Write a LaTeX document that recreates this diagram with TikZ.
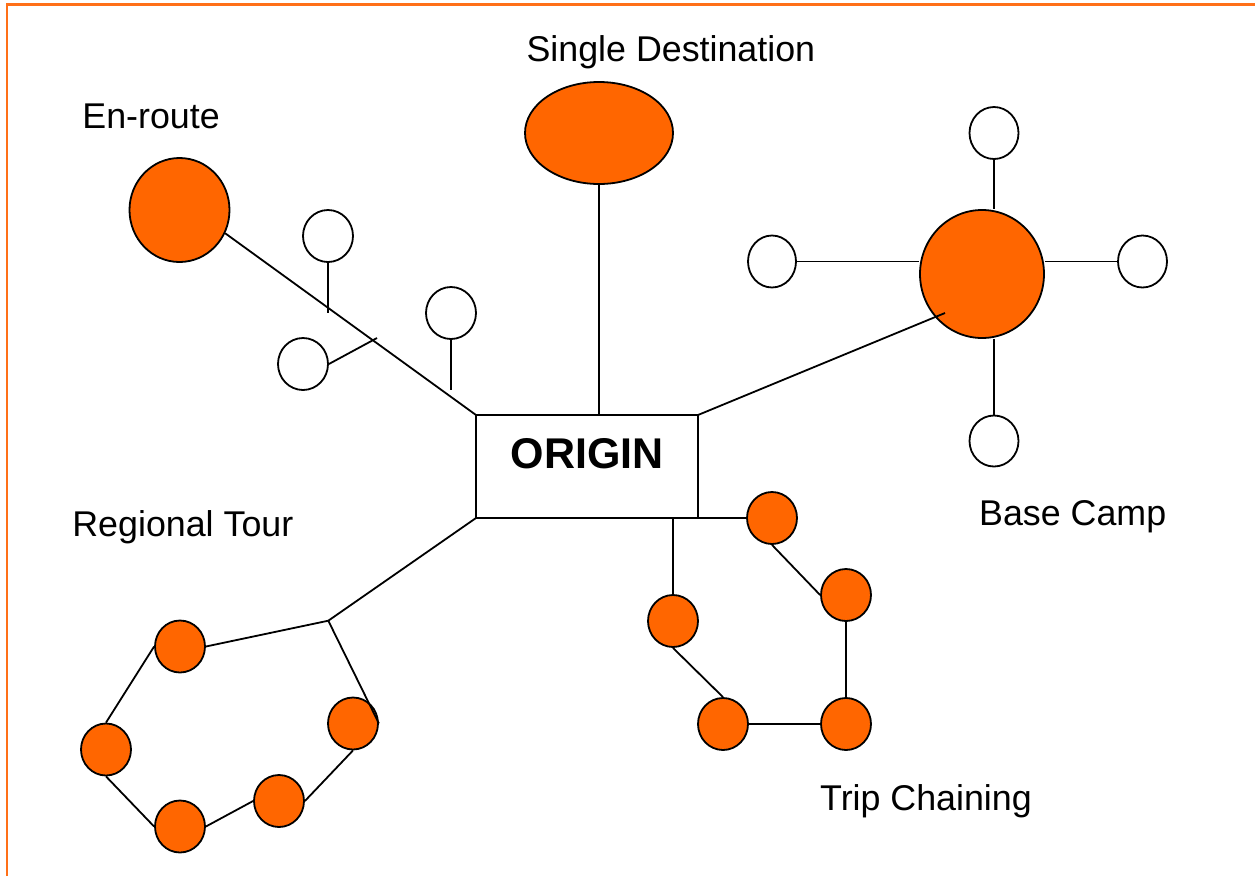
\documentclass[tikz,border=0pt]{standalone}
\usepackage{fontspec}
\setmainfont{Liberation Sans}
\usetikzlibrary{shapes.geometric}
\definecolor{nodeorange}{HTML}{FF6600}
\definecolor{frameorange}{RGB}{255,112,24}
\tikzset{
  conn/.style={line width=1.8pt, black},
  spot/.style={ellipse, draw=black, line width=1.8pt, inner sep=0pt, minimum width=#1},
  whitespot/.style={spot=50pt, fill=white, minimum height=52pt},
  orangespot/.style={spot=50pt, fill=nodeorange, minimum height=52pt},
  lbl/.style={inner sep=0pt, anchor=base west, font=\fontsize{35.8}{40}\selectfont},
  framestyle/.style={line width=2.6pt, frameorange}
}
\begin{document}
\begin{tikzpicture}[x=1pt,y=-1pt]
\useasboundingbox (0,0) rectangle (1255,876);
\fill[white] (0,0) rectangle (1255,876);
% frame
\coordinate (fbl) at (7,876);
\coordinate (ftl) at (7,4.5);
\coordinate (ftr) at (1255,4.5);
\draw[framestyle] (fbl) -- (ftl) -- (ftr);

% origin box
\node[draw, line width=1.8pt, minimum width=222pt, minimum height=103pt, inner sep=0pt, outer sep=0pt] (box) at (587,466.5) {};
\node[inner sep=0pt, anchor=base, font=\fontsize{43}{48}\selectfont\bfseries] (otext) at (587.4,468.3) {ORIGIN};

% En-route
\node[spot=100pt, minimum height=104pt, fill=nodeorange] (E1) at (179.5,210) {};
\node[whitespot] (s1) at (328,236) {};
\node[whitespot] (s2) at (303,364) {};
\node[whitespot] (s3) at (451,313) {};
\coordinate (t1) at (328,313);
\coordinate (t2) at (377,338);
\coordinate (t3) at (451,390);
\draw[conn] (E1.-27) -- (box.north west);
\draw[conn] (s1.south) -- (t1);
\draw[conn] (s2.east) -- (t2);
\draw[conn] (s3.south) -- (t3);
\node[lbl] (lenroute) at (82.2,128.3) {En-route};

% Single destination
\node[spot=148pt, minimum height=102pt, fill=nodeorange] (SD) at (599,133) {};
\draw[conn] (SD.south) -- (SD.south |- box.north);
\node[lbl] (lsingle) at (526.4,61.7) {Single Destination};

% Base camp
\node[spot=124pt, minimum height=128pt, fill=nodeorange] (BC) at (982,274) {};
\node[whitespot, minimum width=49pt] (b1) at (994,133) {};
\node[whitespot, minimum width=48pt] (b2) at (772,261.5) {};
\node[whitespot, minimum width=49pt] (b3) at (1142.5,261.5) {};
\node[whitespot, minimum width=49pt, minimum height=51pt] (b4) at (994,441) {};
\coordinate (bcin) at (945,313);
\draw[conn] (b1.south) -- (b1.south |- BC.north);
\draw[conn] (b4.north) -- (b4.north |- BC.south);
\draw[conn] (b2.east) -- (b2.east -| BC.west);
\draw[conn] (b3.west) -- (b3.west -| BC.east);
\draw[conn] (box.north east) -- (bcin);
\node[lbl] (lbase) at (979,525) {Base Camp};

% Trip chaining
\node[orangespot] (A) at (772,518) {};
\node[orangespot] (B) at (846,595) {};
\node[orangespot] (C) at (673,621) {};
\node[orangespot] (D) at (723,724) {};
\node[orangespot] (E) at (846,724) {};
\draw[conn] (box.south east) -- (A.west);
\draw[conn] (C.north) -- (C.north |- box.south);
\draw[conn] (A.south) -- (B.west);
\draw[conn] (B.south) -- (E.north);
\draw[conn] (C.south) -- (D.north);
\draw[conn] (D.east) -- (E.west);
\node[lbl] (ltrip) at (820,810) {Trip Chaining};

% Regional tour
\coordinate (J) at (328.3,620.7);
\node[orangespot] (R1) at (180,646.5) {};
\node[orangespot] (R2) at (106,749.5) {};
\node[orangespot] (R3) at (180,826.5) {};
\node[orangespot] (R4) at (279,801) {};
\node[orangespot] (R6) at (353,723.5) {};
\draw[conn] (box.south west) -- (J);
\draw[conn] (J) -- (R1.east);
\draw[conn] (J) -- (R6.east);
\draw[conn] (R1.west) -- (R2.north);
\draw[conn] (R2.south) -- (R3.west);
\draw[conn] (R3.east) -- (R4.west);
\draw[conn] (R4.east) -- (R6.south);
\node[lbl] (lregional) at (72.2,536.7) {Regional Tour};
\end{tikzpicture}
\end{document}
